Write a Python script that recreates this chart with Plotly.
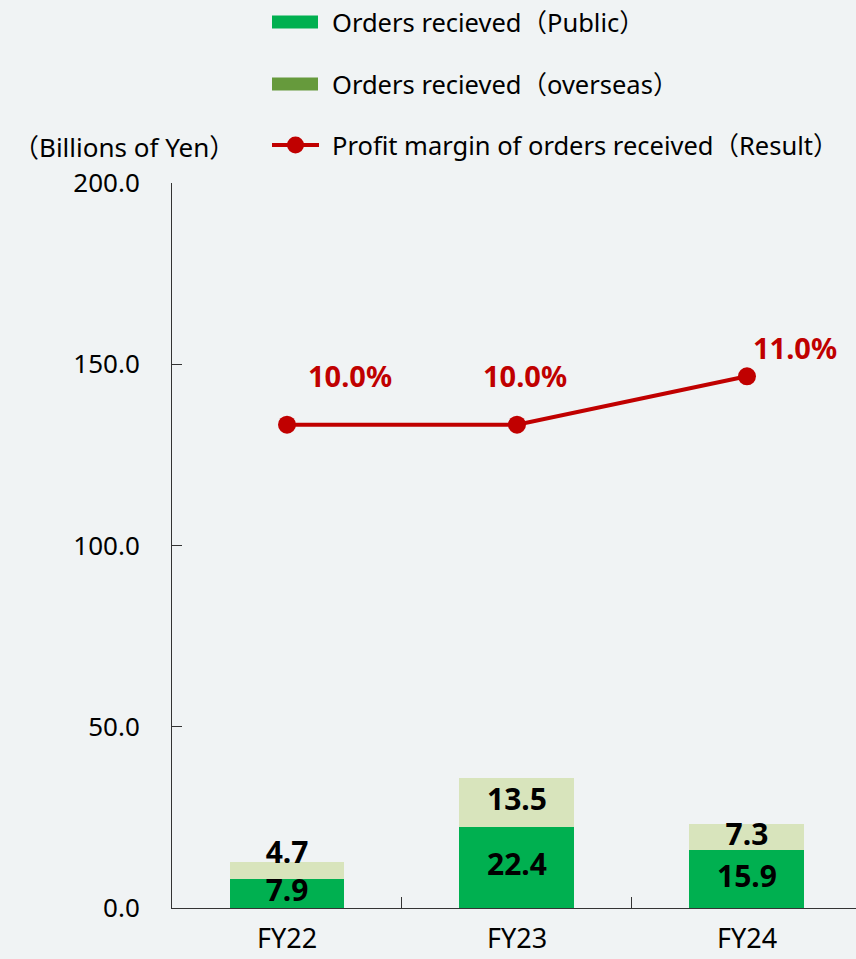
import plotly.graph_objects as go

categories = ["FY22", "FY23", "FY24"]
public_orders = [7.9, 22.4, 15.9]
overseas_orders = [4.7, 13.5, 7.3]
profit_margin = [10.0, 10.0, 11.0]
y_ticks = [0, 50, 100, 150, 200]
y_tick_labels = ["0.0", "50.0", "100.0", "150.0", "200.0"]

FONT = "Noto Sans, Noto Sans CJK JP, sans-serif"
BG = "#f0f3f4"
C_PUBLIC = "#00b050"
C_OVER_BAR = "#d8e4bc"
C_OVER_LEG = "#669a3c"
C_LINE = "#c00000"

W, H = 856, 959
ML, MT, MB, MR = 172, 183, 51, 0
pw, ph = W - ML - MR, H - MT - MB


def px(x):
    return (x - ML) / pw


def py(y):
    return (H - MB - y) / ph


fig = go.Figure()
fig.add_trace(go.Bar(x=categories, y=public_orders, marker_color=C_PUBLIC,
                     marker_line_width=0, width=0.5, name="Orders recieved（Public）",
                     showlegend=False, hoverinfo="skip"))
fig.add_trace(go.Bar(x=categories, y=overseas_orders, marker_color=C_OVER_BAR,
                     marker_line_width=0, width=0.5, name="Orders recieved（overseas）",
                     showlegend=False, hoverinfo="skip"))
fig.add_trace(go.Scatter(x=categories, y=profit_margin, yaxis="y2", mode="lines+markers",
                         line=dict(color=C_LINE, width=4), marker=dict(color=C_LINE, size=18),
                         name="Profit margin of orders received（Result）", showlegend=False))

# bar value labels (clipped at the axis like the reference)
pub_mid = [v / 2 for v in public_orders]
over_mid = [p + o / 2 for p, o in zip(public_orders, overseas_orders)]
fig.add_trace(go.Scatter(x=categories, y=pub_mid, mode="text",
                         text=[f"{v:.1f}" for v in public_orders],
                         textposition="middle center",
                         cliponaxis=True, showlegend=False, hoverinfo="skip",
                         textfont=dict(family=FONT, size=30, color="black", weight="bold")))
fig.add_trace(go.Scatter(x=categories, y=over_mid, mode="text",
                         text=[f"{v:.1f}" for v in overseas_orders],
                         textposition=["top center", "middle center", "middle center"],
                         cliponaxis=True, showlegend=False, hoverinfo="skip",
                         textfont=dict(family=FONT, size=30, color="black", weight="bold")))

annotations = []
# line labels
line_shift = [(63, 49), (8, 49), (48, 29)]
for i, c in enumerate(categories):
    annotations.append(dict(x=c, y=profit_margin[i], yref="y2", text=f"{profit_margin[i]:.1f}%",
                            showarrow=False, xshift=line_shift[i][0], yshift=line_shift[i][1],
                            font=dict(family=FONT, size=29, color=C_LINE, weight="bold")))

annotations.append(dict(x=px(124), y=py(147), xref="paper", yref="paper",
                        text="（Billions of Yen）", showarrow=False, xanchor="center",
                        yanchor="middle", font=dict(family=FONT, size=26, color="black")))

# legend
shapes = []
leg_items = [("Orders recieved（Public）", C_PUBLIC, "bar", 22),
             ("Orders recieved（overseas）", C_OVER_LEG, "bar", 84),
             ("Profit margin of orders received（Result）", C_LINE, "line", 145)]
for text, col, kind, yc in leg_items:
    if kind == "bar":
        shapes.append(dict(type="rect", xref="paper", yref="paper", x0=px(272), x1=px(318),
                           y0=py(yc + 6.5), y1=py(yc - 6.5), fillcolor=col, line_width=0))
    else:
        shapes.append(dict(type="line", xref="paper", yref="paper", x0=px(272), x1=px(319),
                           y0=py(yc), y1=py(yc), line=dict(color=col, width=4)))
        shapes.append(dict(type="circle", xref="paper", yref="paper", x0=px(287), x1=px(304),
                           y0=py(yc + 8.5), y1=py(yc - 8.5), fillcolor=col, line_width=0))
    annotations.append(dict(x=px(330), y=py(yc), xref="paper", yref="paper", text=text,
                            showarrow=False, xanchor="left", yanchor="middle",
                            font=dict(family=FONT, size=25.5, color="black")))

fig.update_layout(
    width=W, height=H, barmode="stack",
    paper_bgcolor=BG, plot_bgcolor=BG,
    margin=dict(l=ML, r=MR, t=MT, b=MB, pad=0),
    showlegend=False,
    font=dict(family=FONT, size=26, color="black"),
    xaxis=dict(range=[-0.5, 2.474], showline=True, linecolor="#333333", linewidth=1,
               tickvals=[0.5, 1.5], ticktext=["", ""], ticks="inside", ticklen=11,
               tickcolor="#333333", showgrid=False, zeroline=False, fixedrange=True),
    yaxis=dict(range=[0, 200], tickvals=y_ticks, ticktext=y_tick_labels, showline=True,
               linecolor="#333333", linewidth=1, ticks="inside", ticklen=10,
               tickcolor="#333333", showgrid=False, zeroline=False,
               ticklabelstandoff=26, tickfont=dict(family=FONT, size=26)),
    yaxis2=dict(range=[0, 15], overlaying="y", visible=False),
    annotations=annotations, shapes=shapes,
)
for i, c in enumerate(categories):
    fig.add_annotation(x=i, y=0, yref="paper", text=c, showarrow=False, yanchor="top",
                       yshift=-9, font=dict(family=FONT, size=27, color="black"))

fig.write_html("out.html", config={"displayModeBar": False},
               post_script="document.body.style.margin='0px';document.body.style.overflow='hidden';")
